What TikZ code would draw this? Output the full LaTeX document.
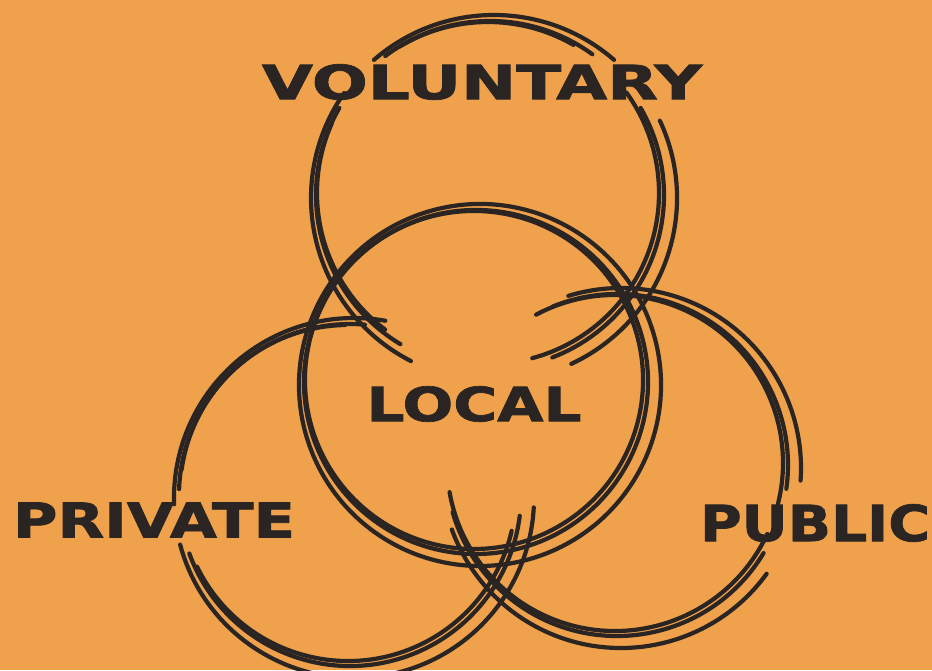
\documentclass[tikz,border=0pt]{standalone}
\usepackage{fontspec}
\setmainfont[FakeBold=1.5]{DejaVu Sans}
\usepackage{graphicx}
\usepackage{tikz}
\usetikzlibrary{calc}
\definecolor{paper}{HTML}{EFA14B}
\definecolor{ink}{HTML}{2A2522}
\tikzstyle{ring} = [draw=ink, line width=4.2pt, line cap=round]
\tikzstyle{word} = [inner sep=0pt, text=ink, font=\bfseries]
% one hand-drawn arc: centre, radius, start angle, end angle
\newcommand{\ringarc}[4]{%
  \foreach \dx/\dy/\dr/\ds/\de in {0/0/0/0/0, 4/-3/9/-5/4, -2/2/-3/6/-6}
    \draw[ring] ($(#1)+(\dx,\dy)$) ++(#3+\ds:#2+\dr) arc[start angle=#3+\ds, end angle=#4+\de, radius=#2+\dr];
}

\begin{document}
\begin{tikzpicture}[x=1pt, y=1pt]
\useasboundingbox (0,0) rectangle (932,670);
\fill[paper] (0,0) rectangle (932,670);

% circles
\ringarc{476,288}{172}{290}{665}
\ringarc{490,475}{174}{150}{239}
\ringarc{490,475}{174}{30}{-69}
\ringarc{490,475}{174}{54}{127}
\ringarc{350,175}{171}{85}{178}
\ringarc{350,175}{171}{200}{353}
\ringarc{617,205}{171}{112}{-8}
\ringarc{617,205}{171}{-31}{-164}

% labels
\node[word] (voluntary) at (482,588) {\resizebox{440pt}{35pt}{VOLUNTARY}};
\node[word] (local) at (474,266) {\resizebox{215pt}{35pt}{LOCAL}};
\node[word] (private) at (154,150) {\resizebox{282pt}{35pt}{PRIVATE}};
\node[word] (public) at (815,147) {\resizebox{230pt}{37pt}{PUBLIC}};
\end{tikzpicture}
\end{document}
